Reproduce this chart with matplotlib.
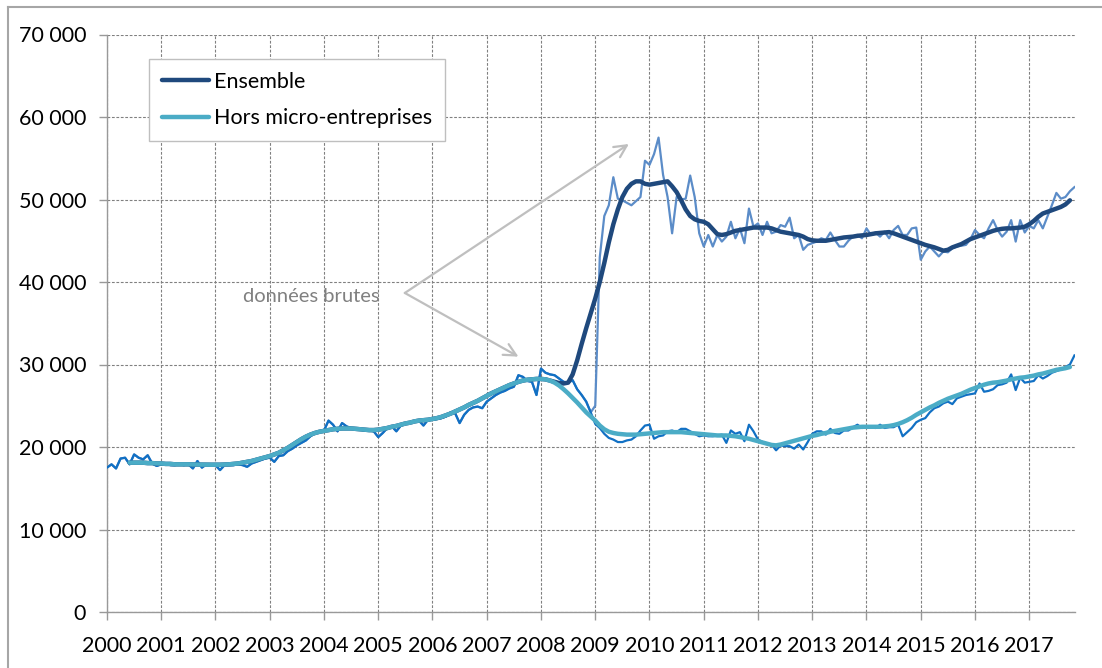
import matplotlib
matplotlib.use("Agg")
import matplotlib.pyplot as plt
from matplotlib.lines import Line2D
import numpy as np

# -------------------------------------------------
# Données (mensuelles, janv. 2000 -> nov. 2017)
# -------------------------------------------------

annee_debut = 2000
annees_ticks = list(range(2000, 2018))
y_ticks = [0, 10000, 20000, 30000, 40000, 50000, 60000, 70000]

# données brutes hors micro-entreprises
hors_brut = [
    17500, 17900, 17400, 18600, 18700, 17900, 19100, 18700, 18500, 19000, 18000, 17700,  # 2000
    17900, 18000, 17800, 17800, 17900, 17800, 17900, 17400, 18300, 17500, 17900, 17800,  # 2001
    17800, 17200, 17800, 17800, 17800, 17900, 17800, 17600, 18000, 18200, 18400, 18600,  # 2002
    18700, 18200, 18900, 19000, 19500, 19800, 20200, 20500, 20800, 21300, 21700, 21900,  # 2003
    22000, 23200, 22700, 21900, 22900, 22500, 22300, 22100, 22100, 22000, 22000, 21900,  # 2004
    21200, 21700, 22300, 22500, 21900, 22600, 22800, 22900, 23100, 23200, 22600, 23300,  # 2005
    23300, 23400, 23500, 23700, 24200, 24100, 22900, 23900, 24500, 24800, 24900, 24700,  # 2006
    25500, 25900, 26300, 26600, 26800, 27100, 27300, 28700, 28500, 28000, 27900, 26300,  # 2007
    29500, 29000, 28800, 28700, 28300, 27900, 27800, 28100, 27000, 26300, 25500, 24200,  # 2008
    22800, 22300, 21600, 21100, 20900, 20600, 20600, 20800, 20900, 21300, 22000, 22600,  # 2009
    22700, 21000, 21300, 21400, 21900, 22000, 21800, 22200, 22200, 21900, 21600, 21300,  # 2010
    21400, 21300, 21300, 21400, 21500, 20500, 22000, 21600, 21800, 20700, 22700, 21900,  # 2011
    20900, 20600, 20400, 20300, 19600, 20200, 20100, 20100, 19800, 20300, 19700, 20600,  # 2012
    21600, 21900, 21900, 21500, 22200, 21700, 21600, 22000, 22000, 22400, 22700, 22300,  # 2013
    22400, 22400, 22300, 22700, 22300, 22400, 22400, 22700, 21300, 21800, 22300, 23000,  # 2014
    23300, 23500, 24200, 24700, 24900, 25300, 25500, 25200, 25900, 26100, 26300, 26400,  # 2015
    26500, 27700, 26700, 26800, 27000, 27500, 27600, 27800, 28800, 26900, 28400, 27800,  # 2016
    27900, 28000, 28700, 28300, 28600, 29000, 29200, 29400, 29700, 30000, 31100,         # 2017
]

# données brutes ensemble (identiques avant 2009, puis avec micro-entreprises)
ens_brut_2009 = [
    25000, 43000, 48000, 49300, 52700, 50100, 49900, 49600, 49300, 49800, 50300, 54700,  # 2009
    54200, 55500, 57500, 53000, 50300, 45900, 50300, 50000, 50100, 52900, 50300, 45900,  # 2010
    44300, 45700, 44300, 45700, 44900, 45500, 47300, 45300, 46500, 44700, 48900, 46700,  # 2011
    47100, 45700, 47300, 45900, 46100, 46900, 46700, 47800, 45300, 45700, 43900, 44500,  # 2012
    44700, 44900, 45300, 45100, 46000, 45100, 44300, 44300, 45000, 45500, 45700, 45300,  # 2013
    46500, 45700, 46000, 45500, 46100, 45300, 46300, 46800, 45700, 45700, 46500, 46600,  # 2014
    42700, 43700, 44300, 43700, 43100, 43700, 43600, 44100, 44300, 44400, 44500, 45200,  # 2015
    46300, 45700, 45300, 46500, 47500, 46300, 45500, 46100, 47500, 44900, 47500, 46000,  # 2016
    46800, 46500, 47500, 46500, 47900, 49300, 50800, 50100, 50300, 51000, 51500,         # 2017
]
ens_brut = hors_brut[:108] + ens_brut_2009

# séries lissées (démarrent en juin 2000)
debut_lisse = 5
hors_lisse = [
    18100, 18100, 18100, 18100, 18050, 18050, 18000,                                     # 2000
    18000, 17950, 17950, 17900, 17900, 17900, 17900, 17880, 17870, 17860, 17850, 17850,  # 2001
    17850, 17850, 17870, 17900, 17950, 18000, 18100, 18200, 18300, 18450, 18600, 18750,  # 2002
    18900, 19100, 19300, 19600, 19900, 20250, 20600, 20950, 21250, 21500, 21700, 21850,  # 2003
    21950, 22050, 22150, 22200, 22250, 22250, 22250, 22200, 22150, 22100, 22050, 22050,  # 2004
    22100, 22200, 22300, 22450, 22550, 22700, 22850, 22950, 23100, 23200, 23250, 23300,  # 2005
    23400, 23500, 23650, 23850, 24050, 24300, 24550, 24800, 25100, 25350, 25600, 25900,  # 2006
    26200, 26500, 26750, 27000, 27250, 27500, 27700, 27900, 28050, 28150, 28200, 28250,  # 2007
    28250, 28200, 28050, 27800, 27450, 27000, 26500, 25950, 25400, 24800, 24200, 23700,  # 2008
    23200, 22600, 22150, 21850, 21700, 21600, 21550, 21500, 21500, 21500, 21550, 21600,  # 2009
    21650, 21700, 21750, 21800, 21800, 21800, 21800, 21800, 21750, 21700, 21650, 21600,  # 2010
    21550, 21500, 21450, 21400, 21400, 21400, 21350, 21300, 21200, 21100, 21000, 20850,  # 2011
    20700, 20550, 20400, 20250, 20200, 20300, 20450, 20600, 20750, 20900, 21050, 21200,  # 2012
    21350, 21450, 21600, 21700, 21850, 21950, 22050, 22150, 22250, 22350, 22400, 22450,  # 2013
    22450, 22450, 22450, 22450, 22500, 22550, 22650, 22800, 23000, 23250, 23550, 23900,  # 2014
    24200, 24500, 24800, 25050, 25350, 25600, 25850, 26050, 26250, 26450, 26700, 26950,  # 2015
    27150, 27350, 27550, 27700, 27800, 27850, 27950, 28050, 28200, 28300, 28400, 28450,  # 2016
    28550, 28650, 28800, 28900, 29050, 29200, 29350, 29450, 29550, 29700,                # 2017
]
ens_lisse_fin = [
    27900, 27750, 27700, 27800, 28800, 30500, 32500, 34400, 36200,                       # 2008 (avr.-déc.)
    38000, 40000, 42300, 44800, 47000, 48800, 50300, 51300, 51900, 52200, 52200, 51900,  # 2009
    51800, 51900, 52000, 52100, 52200, 51600, 50900, 49900, 48800, 48000, 47600, 47400,  # 2010
    47300, 47000, 46400, 45800, 45700, 45800, 46000, 46200, 46300, 46400, 46500, 46600,  # 2011
    46600, 46600, 46600, 46500, 46300, 46100, 46000, 45900, 45800, 45700, 45500, 45200,  # 2012
    45050, 45000, 45000, 45000, 45100, 45200, 45300, 45400, 45450, 45500, 45600, 45650,  # 2013
    45700, 45800, 45900, 45950, 46000, 46050, 45900, 45700, 45500, 45300, 45100, 44900,  # 2014
    44700, 44500, 44350, 44200, 44000, 43800, 43900, 44200, 44400, 44600, 44900, 45200,  # 2015
    45400, 45600, 45800, 46000, 46200, 46350, 46450, 46500, 46500, 46550, 46600, 46700,  # 2016
    47000, 47400, 47900, 48300, 48500, 48700, 48900, 49100, 49400, 49900,                # 2017
]
ens_lisse = hors_lisse[:99 - debut_lisse] + ens_lisse_fin

# -------------------------------------------------
# Style
# -------------------------------------------------

plt.rcParams.update({
    "font.family": ["Lato", "DejaVu Sans"],
    "font.size": 15.5,
})

c_ens_lisse = "#1f497d"
c_ens_brut = "#5b8cc8"
c_hors_lisse = "#4bacc6"
c_hors_brut = "#1170c4"
c_gris = "#808080"
c_fleche = "#bfbfbf"

fig = plt.figure(figsize=(11.02, 6.68), dpi=100)
ax = fig.add_axes([107 / 1102, 56 / 668, 968 / 1102, 577.5 / 668])

mois_brut = annee_debut + np.arange(len(hors_brut)) / 12
mois_lisse = annee_debut + (debut_lisse + np.arange(len(hors_lisse))) / 12

ax.plot(mois_brut, ens_brut, color=c_ens_brut, lw=1.6, zorder=2)
ax.plot(mois_brut, hors_brut, color=c_hors_brut, lw=1.6, zorder=3)
l_ens, = ax.plot(mois_lisse, ens_lisse, color=c_ens_lisse, lw=3.2, zorder=4,
                 solid_capstyle="round", label="Ensemble")
l_hors, = ax.plot(mois_lisse, hors_lisse, color=c_hors_lisse, lw=3.2, zorder=5,
                  solid_capstyle="round", label="Hors micro-entreprises")

# -------------------------------------------------
# Axes
# -------------------------------------------------

ax.set_xlim(annee_debut, annee_debut + (len(hors_brut) - 1) / 12 + 0.01)
ax.set_ylim(0, 70000)
ax.set_xticks(annees_ticks)
ax.set_xticklabels([str(a) for a in annees_ticks])
ax.set_yticks(y_ticks)
ax.set_yticklabels([f"{v:,}".replace(",", " ") for v in y_ticks])

ax.grid(True, color=c_gris, lw=0.8, linestyle=(0, (2.5, 1.5)))
ax.set_axisbelow(True)

for s in ["top", "right"]:
    ax.spines[s].set_visible(False)
for s in ["left", "bottom"]:
    ax.spines[s].set_color("#999999")
    ax.spines[s].set_linewidth(1.0)

ax.tick_params(axis="x", direction="out", length=6, width=1, color="#999999",
               pad=11, labelsize=15.5, labelcolor="black")
ax.tick_params(axis="y", direction="out", length=6, width=1, color="#999999",
               pad=9, labelsize=15.5, labelcolor="black")

# -------------------------------------------------
# Légende
# -------------------------------------------------

leg = ax.legend(handles=[l_ens, l_hors], loc="upper left",
                bbox_to_anchor=(0.0434, 0.9576), borderaxespad=0,
                fancybox=False, framealpha=1, edgecolor=c_fleche,
                handlelength=2.2, handletextpad=0.2, labelspacing=0.75,
                borderpad=0.6, fontsize=15.5)
leg.get_frame().set_linewidth(1.0)
leg.set_zorder(10)

# -------------------------------------------------
# Annotation "données brutes"
# -------------------------------------------------

pointe = (2005.49, 38670)
fleche_haut = (2009.62, 56730)
fleche_bas = (2007.585, 30950)

for cible in [fleche_haut, fleche_bas]:
    ax.annotate("", xy=cible, xytext=pointe,
                arrowprops=dict(arrowstyle="->", color=c_fleche, lw=1.6,
                                mutation_scale=22, shrinkA=0, shrinkB=0),
                zorder=6)

ax.text(2003.76, 38300, "données brutes", color=c_gris, fontsize=14.5,
        ha="center", va="center", zorder=6)

# cadre du graphique
fig.add_artist(Line2D([8 / 1102, 1.0], [1 - 7 / 668, 1 - 7 / 668],
                      transform=fig.transFigure, color="#a6a6a6", lw=1.5))
fig.add_artist(Line2D([8 / 1102, 8 / 1102], [0.0, 1 - 7 / 668],
                      transform=fig.transFigure, color="#a6a6a6", lw=1.5))

fig.savefig("out.png", dpi=100)
